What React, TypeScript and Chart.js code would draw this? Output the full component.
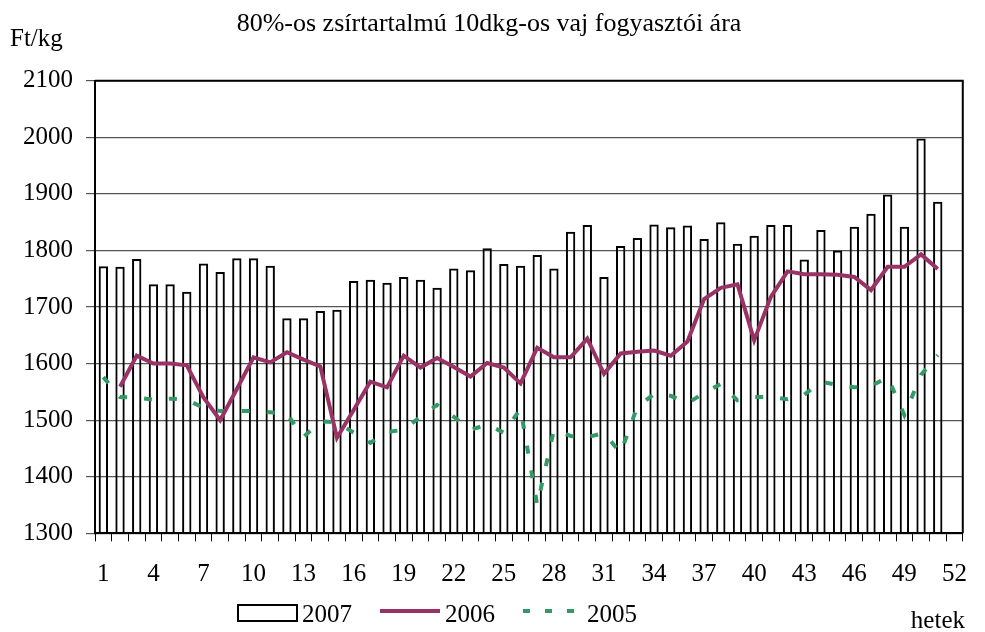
import React, { useEffect, useRef } from 'react';
import { Chart, registerables } from 'chart.js';

Chart.register(...registerables);

const TITLE = '80%-os zsírtartalmú 10dkg-os vaj fogyasztói ára';
const Y_UNIT = 'Ft/kg';
const X_TITLE = 'hetek';

const WEEKS = [
  '1', '2', '3', '4', '5', '6', '7', '8', '9', '10', '11', '12', '13',
  '14', '15', '16', '17', '18', '19', '20', '21', '22', '23', '24', '25', '26',
  '27', '28', '29', '30', '31', '32', '33', '34', '35', '36', '37', '38', '39',
  '40', '41', '42', '43', '44', '45', '46', '47', '48', '49', '50', '51', '52',
];

const SERIES_2007 = '2007';
const SERIES_2006 = '2006';
const SERIES_2005 = '2005';

const PRICE_2007 = [
  1772, 1771, 1785, 1740, 1740, 1727, 1777, 1762, 1786, 1786, 1773, 1680, 1680,
  1693, 1695, 1746, 1748, 1743, 1753, 1748, 1734, 1768, 1765, 1804, 1776, 1773,
  1792, 1768, 1833, 1845, 1753, 1808, 1822, 1846, 1841, 1844, 1820, 1850, 1812,
  1826, 1845, 1845, 1784, 1836, 1800, 1842, 1865, 1899, 1842, 1998, 1886, null,
];

const PRICE_2006 = [
  null, 1559, 1614, 1600, 1600, 1597, 1540, 1500, 1555, 1611, 1602, 1620, 1607,
  1595, 1469, 1518, 1568, 1558, 1614, 1593, 1610, 1594, 1577, 1601, 1593, 1565,
  1628, 1611, 1611, 1644, 1582, 1618, 1621, 1623, 1614, 1639, 1714, 1734, 1740,
  1641, 1718, 1763, 1758, 1758, 1757, 1753, 1730, 1771, 1771, 1793, 1767, null,
];

const PRICE_2005 = [
  1576, 1541, 1540, 1536, 1538, 1536, 1522, 1516, 1516, 1516, 1514, 1511, 1470,
  1498, 1496, 1478, 1460, 1479, 1483, 1506, 1527, 1506, 1483, 1492, 1478, 1520,
  1350, 1483, 1472, 1470, 1477, 1442, 1524, 1546, 1543, 1530, 1548, 1564, 1535,
  1541, 1541, 1537, 1545, 1568, 1562, 1558, 1560, 1576, 1509, 1580, 1615, null,
];

const Y_MIN = 1300;
const Y_MAX = 2100;
const Y_STEP = 100;
const X_LABEL_EVERY = 3;

const FONT = "'Liberation Serif', 'Times New Roman', serif";
const FONT_SIZE = 25;
const TITLE_SIZE = 26;
const COLOR_2006 = '#993366';
const COLOR_2005 = '#339966';

const extrasPlugin = {
  id: 'extras',
  beforeDatasetsDraw(chart: any) {
    const { ctx, chartArea } = chart;
    const { left, right, top, bottom } = chartArea;
    ctx.save();
    ctx.strokeStyle = '#000';
    ctx.lineWidth = 2;
    ctx.beginPath();
    ctx.moveTo(left, top);
    ctx.lineTo(right, top);
    ctx.lineTo(right, bottom);
    ctx.stroke();
    ctx.restore();
  },
  afterDraw(chart: any) {
    const { ctx } = chart;
    const ds = chart.data.datasets;
    ctx.save();
    ctx.font = `${FONT_SIZE}px ${FONT}`;
    ctx.fillStyle = '#000';
    ctx.textBaseline = 'alphabetic';
    ctx.textAlign = 'left';
    ctx.fillText(Y_UNIT, 10, 46);
    ctx.textAlign = 'right';
    ctx.fillText(X_TITLE, 965, 628);

    // legend
    ctx.textAlign = 'left';
    const legendY = 613;
    const textBase = 622;
    // 2007 box
    ctx.fillStyle = '#fff';
    ctx.fillRect(238, legendY - 8, 59, 16);
    ctx.strokeStyle = ds[2].borderColor;
    ctx.lineWidth = 2;
    ctx.strokeRect(238, legendY - 8, 59, 16);
    ctx.fillStyle = '#000';
    ctx.fillText(ds[2].label, 302, textBase);
    // 2006 line
    ctx.strokeStyle = ds[0].borderColor;
    ctx.lineWidth = ds[0].borderWidth;
    ctx.beginPath();
    ctx.moveTo(380, legendY - 2);
    ctx.lineTo(440, legendY - 2);
    ctx.stroke();
    ctx.fillText(ds[0].label, 445, textBase);
    // 2005 dashed
    ctx.strokeStyle = ds[1].borderColor;
    ctx.lineWidth = ds[1].borderWidth;
    ctx.setLineDash([7, 15]);
    ctx.beginPath();
    ctx.moveTo(523, legendY - 2);
    ctx.lineTo(577, legendY - 2);
    ctx.stroke();
    ctx.setLineDash([]);
    ctx.fillText(ds[1].label, 587, textBase);
    ctx.restore();
  },
};

export default function App() {
  const ref = useRef<HTMLCanvasElement>(null);

  useEffect(() => {
    const canvas = ref.current;
    if (!canvas) return;
    const chart = new Chart(canvas, {
      type: 'bar',
      data: {
        labels: WEEKS,
        datasets: [
          {
            type: 'line',
            label: SERIES_2006,
            data: PRICE_2006,
            borderColor: COLOR_2006,
            backgroundColor: COLOR_2006,
            borderWidth: 4,
            pointRadius: 0,
            tension: 0,
            spanGaps: false,
            order: 1,
          },
          {
            type: 'line',
            label: SERIES_2005,
            data: PRICE_2005,
            borderColor: COLOR_2005,
            backgroundColor: COLOR_2005,
            borderWidth: 4,
            borderDash: [8, 17],
            pointRadius: 0,
            tension: 0,
            spanGaps: false,
            order: 2,
          },
          {
            type: 'bar',
            label: SERIES_2007,
            data: PRICE_2007,
            backgroundColor: 'rgba(255,255,255,0)',
            borderColor: '#000',
            borderWidth: 2,
            borderSkipped: 'start',
            barPercentage: 0.56,
            categoryPercentage: 1,
            order: 3,
          },
        ] as any,
      },
      options: {
        animation: false,
        responsive: false,
        maintainAspectRatio: false,
        layout: { padding: { left: 0, right: 7, top: 0, bottom: 0 } },
        plugins: {
          legend: { display: false },
          tooltip: { enabled: false },
          title: {
            display: true,
            text: TITLE,
            color: '#000',
            font: { family: FONT, size: TITLE_SIZE, weight: 'normal', lineHeight: 1.2 },
            padding: { top: 9, bottom: 40.5 },
          },
        },
        scales: {
          x: {
            offset: true,
            grid: {
              display: true,
              offset: true,
              drawOnChartArea: false,
              drawTicks: true,
              tickLength: 8,
              color: '#000',
              lineWidth: 1,
            },
            border: { display: true, color: '#000', width: 2 },
            ticks: {
              autoSkip: false,
              maxRotation: 0,
              minRotation: 0,
              padding: 18,
              color: '#000',
              font: { family: FONT, size: FONT_SIZE },
              callback: (_v: any, i: number) => (i % X_LABEL_EVERY === 0 ? WEEKS[i] : ''),
            },
            afterFit: (scale: any) => {
              scale.height = 98.7;
            },
          },
          y: {
            min: Y_MIN,
            max: Y_MAX,
            grid: {
              color: '#555',
              lineWidth: 1.2,
              drawTicks: true,
              tickLength: 9,
            },
            border: { display: true, color: '#000', width: 2 },
            ticks: {
              stepSize: Y_STEP,
              padding: 13,
              color: '#000',
              font: { family: FONT, size: FONT_SIZE },
              callback: (v: any) => String(v),
            },
            afterFit: (scale: any) => {
              scale.width = 95;
            },
          },
        },
      },
      plugins: [extrasPlugin],
    });
    return () => chart.destroy();
  }, []);

  return (
    <div style={{ position: 'absolute', left: 0, top: 0, width: 985, height: 632, background: '#fff' }}>
      <canvas ref={ref} width={985} height={632} style={{ display: 'block', width: 985, height: 632 }} />
    </div>
  );
}
